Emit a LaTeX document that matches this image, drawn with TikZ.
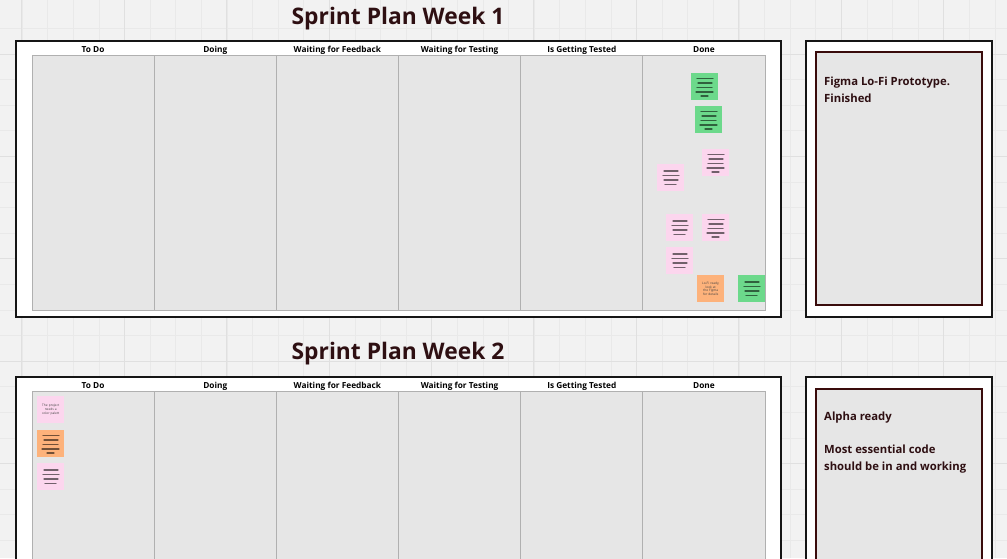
\documentclass[tikz,border=0pt]{standalone}
\usepackage{fontspec}
\setmainfont{Open Sans}
\definecolor{bgc}{HTML}{F2F2F2}
\definecolor{gridminor}{HTML}{E9E9E9}
\definecolor{gridmajor}{HTML}{E0E0E0}
\definecolor{colfill}{HTML}{E6E6E6}
\definecolor{colline}{HTML}{B0B0B0}
\definecolor{ink}{HTML}{2E0F12}
\definecolor{framec}{HTML}{151515}
\definecolor{maroon}{HTML}{3A0C0C}
\definecolor{stgreen}{HTML}{6CD98B}
\definecolor{stpink}{HTML}{FCD6EE}
\definecolor{storange}{HTML}{FDB27B}
\tikzset{
  title/.style={font=\fontsize{22.8}{27}\selectfont\bfseries, text=ink, inner sep=0pt},
  colhead/.style={font=\fontsize{8.3}{10}\selectfont\bfseries, text=black, inner sep=0pt},
  boardframe/.style={draw=framec, line width=1.8pt, fill=white},
  colbox/.style={draw=colline, line width=0.8pt, fill=colfill},
  goalframe/.style={draw=framec, line width=1.8pt, fill=white},
  goalinner/.style={draw=maroon, line width=1.6pt, fill=colfill},
  goaltext/.style={font=\fontsize{11.3}{16.5}\selectfont\bfseries, text=ink, inner sep=0pt, align=left, anchor=north west},
  sticky/.style={minimum width=27pt, minimum height=27pt, inner sep=0pt, draw=none},
  stline/.style={line width=1.3pt, draw=black, draw opacity=0.55, line cap=round},
  tinytext/.style={font=\fontsize{3.2}{3.8}\selectfont, text=black!75, align=center, text width=24pt}
}
\newcommand\stickylines[1]{%
  \draw[stline] ([shift={(6,5.5)}]#1.north west) -- ++(16,0);
  \draw[stline] ([shift={(7,10)}]#1.north west) -- ++(14,0);
  \draw[stline] ([shift={(6,14.5)}]#1.north west) -- ++(15,0);
  \draw[stline] ([shift={(5,19)}]#1.north west) -- ++(17,0);
  \draw[stline] ([shift={(10,23)}]#1.north west) -- ++(7,0);
}
\newcommand\stickyfour[1]{%
  \draw[stline] ([shift={(7,7)}]#1.north west) -- ++(14,0);
  \draw[stline] ([shift={(6,11.5)}]#1.north west) -- ++(16,0);
  \draw[stline] ([shift={(7,16)}]#1.north west) -- ++(14,0);
  \draw[stline] ([shift={(8,20.5)}]#1.north west) -- ++(11,0);
}
\begin{document}
\begin{tikzpicture}[x=1pt,y=-1pt]
\fill[bgc] (0,0) rectangle (1007,558);
\useasboundingbox (0,0) rectangle (1007,558);
% background grid
\foreach \i in {0,...,40} {
  \draw[gridminor, line width=0.5pt] ({22+25.6*(\i-1)},0) -- ++(0,558);
}
\foreach \i in {0,...,22} {
  \draw[gridminor, line width=0.5pt] (0,{361-25.6*(\i-1)+25.6*8}) -- ++(1007,0);
}
\foreach \i in {0,...,10} {
  \draw[gridmajor, line width=0.6pt] ({124+102.4*(\i-1)},0) -- ++(0,558);
}
\foreach \i in {0,...,6} {
  \draw[gridmajor, line width=0.6pt] (0,{361+102.4*(\i-3)}) -- ++(1007,0);
}

% ---------- Week 1 ----------
\node[title] (t1) at (398,19) {Sprint Plan Week 1};
\draw[boardframe] (16,41) rectangle (781,317);
\foreach \n [count=\k from 0] in {To Do,Doing,Waiting for Feedback,Waiting for Testing,Is Getting Tested,Done} {
  \draw[colbox] ({32+122.17*\k},55) rectangle ({32+122.17*(\k+1)},310);
  \node[colhead] (h1-\k) at ({32+122.17*(\k+0.5)},50) {\n};
}
\draw[goalframe] (806,41) rectangle (992,317);
\draw[goalinner] (816,52) rectangle (982,305);
\node[goaltext] (g1) at (824,77) {Figma Lo-Fi Prototype.\\Finished};

% stickies week 1 (Done column)
\node[sticky, fill=stgreen, anchor=north west] (s1) at (691,73) {}; \stickylines{s1}
\node[sticky, fill=stgreen, anchor=north west] (s2) at (695,106) {}; \stickylines{s2}
\node[sticky, fill=stpink, anchor=north west] (s3) at (702,149) {}; \stickylines{s3}
\node[sticky, fill=stpink, anchor=north west] (s4) at (657,164) {}; \stickyfour{s4}
\node[sticky, fill=stpink, anchor=north west] (s5) at (666,214) {}; \stickyfour{s5}
\node[sticky, fill=stpink, anchor=north west] (s6) at (702,214) {}; \stickylines{s6}
\node[sticky, fill=stpink, anchor=north west] (s7) at (666,247) {}; \stickyfour{s7}
\node[sticky, fill=storange, anchor=north west, tinytext] (s8) at (697,275) {Lo-Fi ready, look at the Figma for details};
\node[sticky, fill=stgreen, anchor=north west] (s9) at (738,275) {}; \stickyfour{s9}

% ---------- Week 2 ----------
\node[title] (t2) at (398,354) {Sprint Plan Week 2};
\draw[boardframe] (16,377) rectangle (781,600);
\foreach \n [count=\k from 0] in {To Do,Doing,Waiting for Feedback,Waiting for Testing,Is Getting Tested,Done} {
  \draw[colbox] ({32+122.17*\k},391) rectangle ({32+122.17*(\k+1)},600);
  \node[colhead] (h2-\k) at ({32+122.17*(\k+0.5)},386) {\n};
}
\draw[goalframe] (806,377) rectangle (992,600);
\draw[goalinner] (816,389) rectangle (982,600);
\node[goaltext] (g2) at (824,412) {Alpha ready\\[16.5pt]Most essential code\\should be in and working};

\node[sticky, fill=stpink, anchor=north west, tinytext] (u1) at (37,396) {The project needs a color palett};
\node[sticky, fill=storange, anchor=north west] (u2) at (37,430) {}; \stickylines{u2}
\node[sticky, fill=stpink, anchor=north west] (u3) at (37,463) {}; \stickyfour{u3}
\end{tikzpicture}
\end{document}
